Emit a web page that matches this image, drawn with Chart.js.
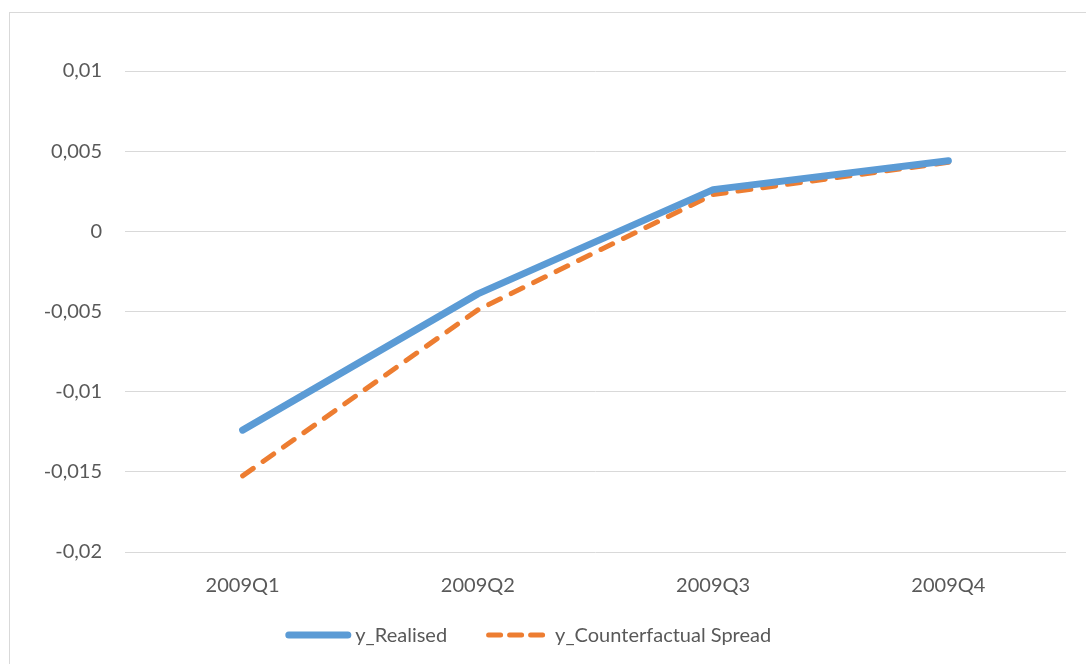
<!DOCTYPE html>
<html>
<head>
<meta charset="utf-8">
<script src="https://cdn.jsdelivr.net/npm/chart.js@4.4.1/dist/chart.umd.min.js"></script>
<style>
  html, body { margin: 0; padding: 0; background: #fff; }
  #wrap { position: relative; width: 1086px; height: 664px; overflow: hidden; }
  #frame { position: absolute; left: 9px; top: 12px; width: 1200px; height: 800px; border: 1px solid #d9d9d9; }
  canvas { position: absolute; left: 0; top: 0; }
</style>
</head>
<body>
<div id="wrap">
  <div id="frame"></div>
  <canvas id="chart" width="1086" height="664"></canvas>
</div>
<script>
const quarters = ['2009Q1', '2009Q2', '2009Q3', '2009Q4'];
const realised = [-0.0124, -0.0039, 0.0026, 0.0044];
const counterfactual = [-0.01525, -0.0049, 0.0023, 0.0043];
const yMin = -0.02;
const yMax = 0.01;
const yStep = 0.005;

const textColor = '#595959';
const font = { family: 'Lato', size: 20 };

function formatTick(v) {
  const r = Math.round(v * 1000) / 1000;
  return String(r).replace('.', ',');
}

// legend drawn by hand, Excel style: line sample then label
const bottomLegend = {
  id: 'bottomLegend',
  afterDraw(chart) {
    const c = chart.ctx;
    const sets = chart.data.datasets;
    const cy = 635;
    c.save();
    c.font = `${font.size}px ${font.family}`;
    c.textBaseline = 'middle';
    c.fillStyle = textColor;
    const w1 = c.measureText(sets[0].label).width;
    const w2 = c.measureText(sets[1].label).width;
    const total = 59 + 7.5 + w1 + 41.5 + 54 + 12.5 + w2;
    let x = 530 - total / 2;

    c.lineCap = 'round';
    c.strokeStyle = sets[0].borderColor;
    c.lineWidth = sets[0].borderWidth;
    c.beginPath();
    c.moveTo(x, cy); c.lineTo(x + 59, cy);
    c.stroke();
    x += 59 + 7.5;
    c.fillText(sets[0].label, x, cy + 1);
    x += w1 + 41.5;

    c.strokeStyle = sets[1].borderColor;
    c.lineWidth = sets[1].borderWidth;
    c.setLineDash([12, 9]);
    c.beginPath();
    c.moveTo(x, cy); c.lineTo(x + 54, cy);
    c.stroke();
    c.setLineDash([]);
    x += 54 + 12.5;
    c.fillText(sets[1].label, x, cy + 1);
    c.restore();
  }
};

const ctx = document.getElementById('chart').getContext('2d');
new Chart(ctx, {
  type: 'line',
  data: {
    labels: quarters,
    datasets: [
      {
        label: 'y_Realised',
        data: realised,
        borderColor: '#5b9bd5',
        borderWidth: 7,
        borderCapStyle: 'round',
        borderJoinStyle: 'round',
        pointRadius: 0,
        tension: 0
      },
      {
        label: 'y_Counterfactual Spread',
        data: counterfactual,
        borderColor: '#ed7d31',
        borderWidth: 5,
        borderDash: [13, 12],
        borderCapStyle: 'round',
        borderJoinStyle: 'round',
        pointRadius: 0,
        tension: 0
      }
    ]
  },
  options: {
    responsive: false,
    animation: false,
    layout: { padding: { left: 20, right: 20, top: 71, bottom: 44 } },
    plugins: {
      tooltip: { enabled: false },
      legend: { display: false }
    },
    scales: {
      x: {
        offset: true,
        grid: { display: false, drawTicks: false },
        border: { display: false },
        ticks: { color: textColor, font: font, padding: 22 }
      },
      y: {
        min: yMin,
        max: yMax,
        afterFit(scale) { scale.width = 105; },
        grid: { color: '#d9d9d9', lineWidth: 1, drawTicks: false },
        border: { display: false },
        ticks: {
          stepSize: yStep,
          color: textColor,
          font: font,
          padding: 23,
          callback: v => formatTick(v)
        }
      }
    }
  },
  plugins: [bottomLegend]
});
</script>
</body>
</html>
